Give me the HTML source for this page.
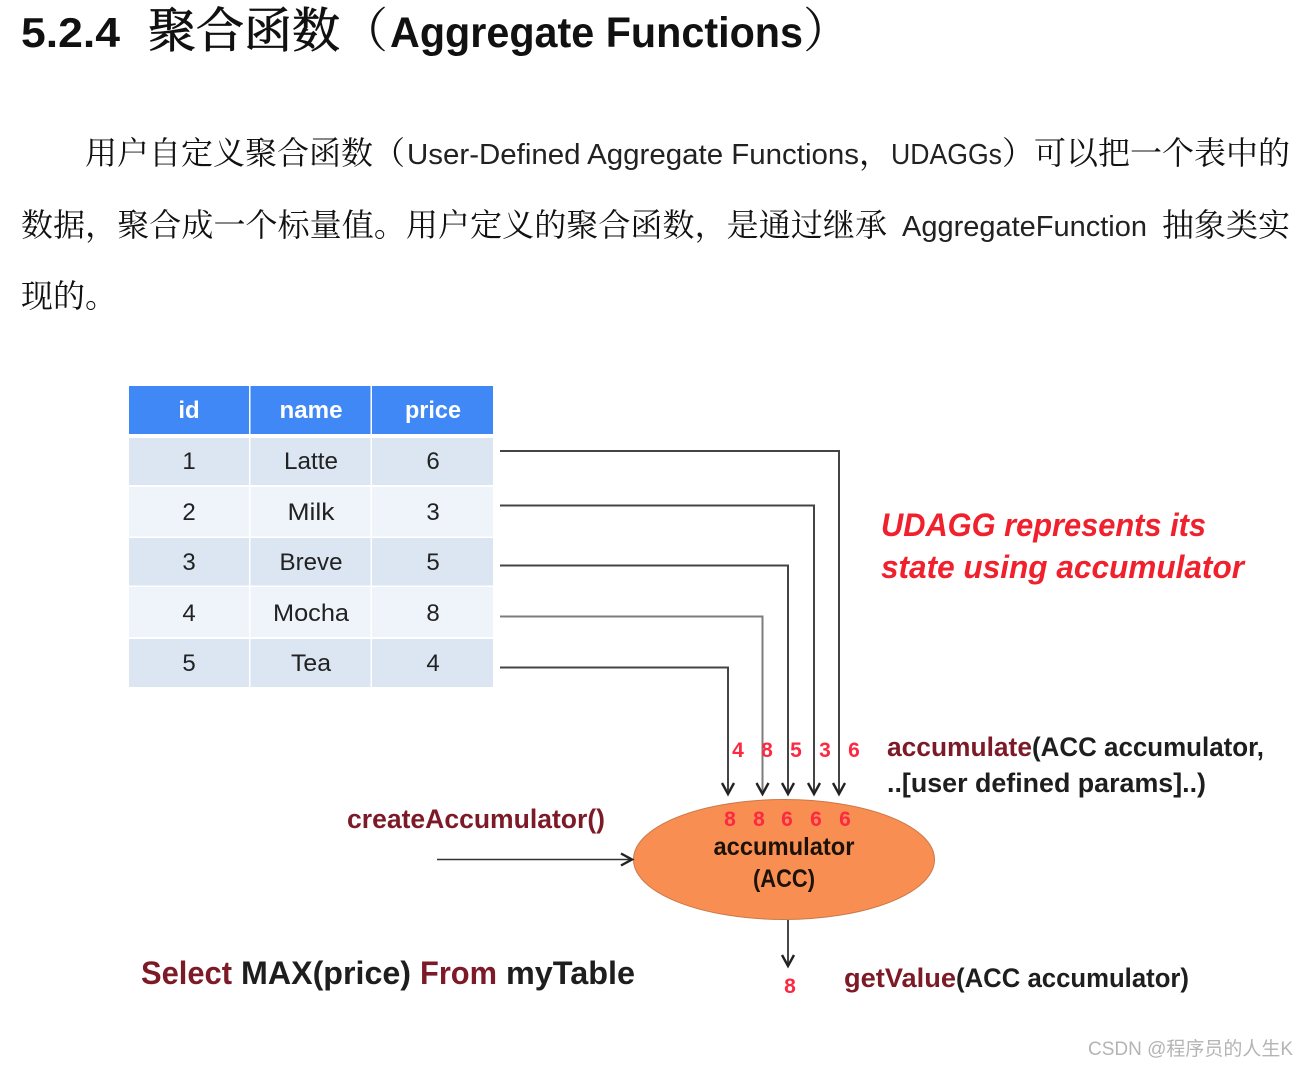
<!DOCTYPE html>
<html><head><meta charset="utf-8"><style>
html,body{margin:0;padding:0;background:#fff}
svg{display:block}
text{font-family:"Liberation Sans","Noto Sans CJK SC",sans-serif}
.c{font-family:"Noto Serif CJK SC","Liberation Serif",serif;font-size:32px;fill:#111}
.l{font-size:29px;fill:#222}
.t{font-size:24px;fill:#222;text-anchor:middle}
.h{font-size:24px;fill:#fff;font-weight:bold;text-anchor:middle}
.r{font-size:21px;font-weight:bold;fill:#fb2a42;text-anchor:middle}
.d{font-weight:bold;fill:#7d1a27;font-size:27px}
.k{font-weight:bold;fill:#1e1e1e;font-size:27px}
.ln{fill:none;stroke:#444;stroke-width:2}
.ar{fill:none;stroke:#222;stroke-width:2.4}
</style></head><body>
<svg width="1308" height="1068" viewBox="0 0 1308 1068" xmlns="http://www.w3.org/2000/svg">
<rect width="1308" height="1068" fill="#fff"/>
<text x="21" y="47" font-size="42" font-weight="bold" fill="#111" textLength="99" lengthAdjust="spacingAndGlyphs">5.2.4</text>
<text x="148" y="47" font-size="48" fill="#111" stroke="#111" stroke-width=".8" style="font-family:'Noto Serif CJK SC',serif" textLength="192" lengthAdjust="spacingAndGlyphs">聚合函数</text>
<text x="340" y="47" font-size="48" fill="#111" style="font-family:'Noto Serif CJK SC',serif">（</text>
<text x="390" y="47" font-size="43" font-weight="bold" fill="#111" textLength="413" lengthAdjust="spacingAndGlyphs">Aggregate Functions</text>
<text x="803" y="47" font-size="48" fill="#111" style="font-family:'Noto Serif CJK SC',serif">）</text>

<text class="c" x="85" y="164" textLength="288" lengthAdjust="spacing">用户自定义聚合函数</text>
<text class="c" x="373" y="164">（</text>
<text class="l" x="407" y="164" textLength="452" lengthAdjust="spacingAndGlyphs">User-Defined Aggregate Functions</text>
<text class="c" x="859" y="164">，</text>
<text class="l" x="891" y="164" textLength="111" lengthAdjust="spacingAndGlyphs">UDAGGs</text>
<text class="c" x="1002" y="164">）</text>
<text class="c" x="1034" y="164" textLength="256" lengthAdjust="spacing">可以把一个表中的</text>

<text class="c" x="21" y="236" textLength="866" lengthAdjust="spacing">数据，聚合成一个标量值。用户定义的聚合函数，是通过继承</text>
<text class="l" x="902" y="236" textLength="245" lengthAdjust="spacingAndGlyphs">AggregateFunction</text>
<text class="c" x="1162" y="236" textLength="128" lengthAdjust="spacing">抽象类实</text>
<text class="c" x="21" y="307">现的。</text>

<!-- table -->
<rect x="129" y="386" width="120" height="48" fill="#3f88f5"/>
<rect x="250.500" y="386" width="120" height="48" fill="#3f88f5"/>
<rect x="372" y="386" width="121" height="48" fill="#3f88f5"/>
<g fill="#dbe6f2">
<rect x="129" y="438" width="120" height="47"/><rect x="250.500" y="438" width="120" height="47"/><rect x="372" y="438" width="121" height="47"/>
<rect x="129" y="538" width="120" height="47.500"/><rect x="250.500" y="538" width="120" height="47.500"/><rect x="372" y="538" width="121" height="47.500"/>
<rect x="129" y="639" width="120" height="48"/><rect x="250.500" y="639" width="120" height="48"/><rect x="372" y="639" width="121" height="48"/>
</g>
<g fill="#eff4fb">
<rect x="129" y="487" width="120" height="49.500"/><rect x="250.500" y="487" width="120" height="49.500"/><rect x="372" y="487" width="121" height="49.500"/>
<rect x="129" y="587" width="120" height="50"/><rect x="250.500" y="587" width="120" height="50"/><rect x="372" y="587" width="121" height="50"/>
</g>
<text class="h" x="189" y="418">id</text><text class="h" x="311" y="418" textLength="63" lengthAdjust="spacingAndGlyphs">name</text><text class="h" x="433" y="418" textLength="56" lengthAdjust="spacingAndGlyphs">price</text>
<text class="t" x="189" y="469">1</text><text class="t" x="311" y="469" textLength="54" lengthAdjust="spacingAndGlyphs">Latte</text><text class="t" x="433" y="469">6</text>
<text class="t" x="189" y="520">2</text><text class="t" x="311" y="520" textLength="47" lengthAdjust="spacingAndGlyphs">Milk</text><text class="t" x="433" y="520">3</text>
<text class="t" x="189" y="570">3</text><text class="t" x="311" y="570" textLength="63" lengthAdjust="spacingAndGlyphs">Breve</text><text class="t" x="433" y="570">5</text>
<text class="t" x="189" y="621">4</text><text class="t" x="311" y="621" textLength="76" lengthAdjust="spacingAndGlyphs">Mocha</text><text class="t" x="433" y="621">8</text>
<text class="t" x="189" y="671">5</text><text class="t" x="311" y="671" textLength="40" lengthAdjust="spacingAndGlyphs">Tea</text><text class="t" x="433" y="671">4</text>

<!-- connectors -->
<path class="ln" d="M500 451H839V793"/>
<path class="ln" d="M500 505.500H814V793"/>
<path class="ln" d="M500 565.500H788V793"/>
<path class="ln" stroke-opacity=".7" d="M500 616.500H762.500V793"/>
<path class="ln" d="M500 667.500H728V793"/>
<g class="ar">
<path class="ar" d="M722 783L728 794L734 783"/>
<path class="ar" d="M756.500 783L762.500 794L768.500 783"/>
<path class="ar" d="M782 783L788 794L794 783"/>
<path class="ar" d="M808 783L814 794L820 783"/>
<path class="ar" d="M833 783L839 794L845 783"/>
</g>

<text class="r" x="738" y="757">4</text><text class="r" x="767" y="757">8</text><text class="r" x="796" y="757">5</text><text class="r" x="825" y="757">3</text><text class="r" x="854" y="757">6</text>

<!-- ellipse -->
<ellipse cx="784" cy="859.500" rx="150.500" ry="60" fill="#f98e52" stroke="#c9794a" stroke-width="1"/>
<text class="r" x="730" y="826">8</text><text class="r" x="759" y="826">8</text><text class="r" x="787" y="826">6</text><text class="r" x="816" y="826">6</text><text class="r" x="845" y="826">6</text>
<text x="784" y="855" font-size="25" font-weight="bold" fill="#1c1208" text-anchor="middle" textLength="141" lengthAdjust="spacingAndGlyphs">accumulator</text>
<text x="784" y="887" font-size="25" font-weight="bold" fill="#1c1208" text-anchor="middle" textLength="62" lengthAdjust="spacingAndGlyphs">(ACC)</text>

<path d="M437 859.500H632" fill="none" stroke="#333" stroke-width="1.600"/>
<path class="ar" d="M621 853.500L632 859.500L621 865.500"/>
<path d="M788 920V965" fill="none" stroke="#333" stroke-width="1.800"/>
<path class="ar" d="M782 955L788 966L794 955"/>
<text class="r" x="790" y="993">8</text>

<!-- labels -->
<text x="881" y="536" font-size="32" font-weight="bold" font-style="italic" fill="#f0202c" textLength="325" lengthAdjust="spacingAndGlyphs">UDAGG represents its</text>
<text x="881" y="578" font-size="32" font-weight="bold" font-style="italic" fill="#f0202c" textLength="363" lengthAdjust="spacingAndGlyphs">state using accumulator</text>

<text class="d" x="887" y="756" textLength="145" lengthAdjust="spacingAndGlyphs">accumulate</text>
<text class="k" x="1032" y="756" textLength="232" lengthAdjust="spacingAndGlyphs">(ACC accumulator,</text>
<text class="k" x="887" y="792" textLength="319" lengthAdjust="spacingAndGlyphs">..[user defined params]..)</text>

<text class="d" x="347" y="828" textLength="258" lengthAdjust="spacingAndGlyphs">createAccumulator()</text>

<text class="d" x="141" y="984" style="font-size:32px" textLength="91" lengthAdjust="spacingAndGlyphs">Select</text>
<text class="k" x="241" y="984" style="font-size:32px" textLength="170" lengthAdjust="spacingAndGlyphs">MAX(price)</text>
<text class="d" x="420" y="984" style="font-size:32px" textLength="77" lengthAdjust="spacingAndGlyphs">From</text>
<text class="k" x="506" y="984" style="font-size:32px" textLength="129" lengthAdjust="spacingAndGlyphs">myTable</text>

<text class="d" x="844" y="987" textLength="112" lengthAdjust="spacingAndGlyphs">getValue</text>
<text class="k" x="956" y="987" textLength="233" lengthAdjust="spacingAndGlyphs">(ACC accumulator)</text>

<text x="1088" y="1055" font-size="19" fill="#b4b4b4" textLength="205" lengthAdjust="spacingAndGlyphs">CSDN @程序员的人生K</text>
</svg>
</body></html>
